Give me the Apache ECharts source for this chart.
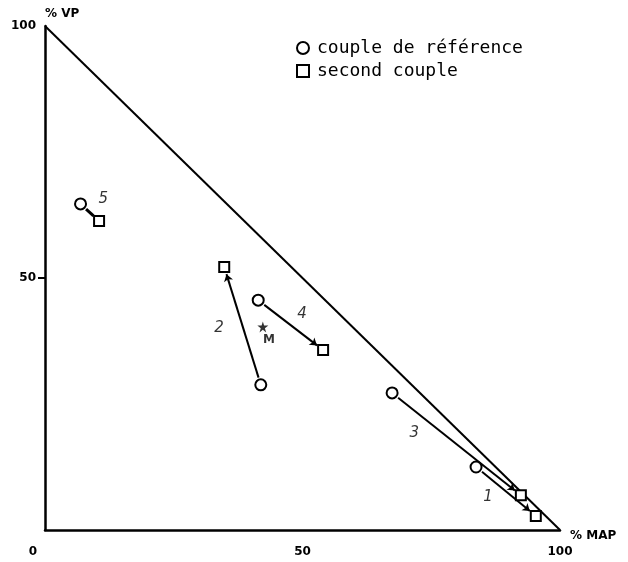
<!DOCTYPE html>
<html>
<head>
<meta charset="utf-8">
<script src="https://cdn.jsdelivr.net/npm/echarts@6/dist/echarts.min.js"></script>
<style>
  html, body { margin: 0; padding: 0; background: #fff; }
  #chart { width: 628px; height: 562px; }
</style>
</head>
<body>
<div id="chart"></div>
<script>
// couples 1..5 : % MAP (x), % VP (y)
const pairNames = ['1', '2', '3', '4', '5'];
const refX = [83.7, 41.9, 67.4, 41.4, 6.9];   // couple de référence (o)
const refY = [12.5, 28.8, 27.2, 45.6, 64.7];
const secX = [95.3, 34.8, 92.4, 54.0, 10.5];  // second couple (□)
const secY = [2.8, 52.2, 6.9, 35.7, 61.3];
const labelX = [86.0, 33.8, 71.7, 49.9, 11.3];
const labelY = [6.5, 40.1, 19.2, 42.9, 65.7];
const pointM = [42.3, 40.3];
const labelM = [43.5, 37.7];
const xTicks = [0, 50, 100];
const yTicks = [50, 100];

const STAR = 'path://M50,0 L61,35 L98,35 L68,57 L79,91 L50,70 L21,91 L32,57 L2,35 L39,35 Z';

// raccourcir un peu les segments pour qu'ils ne touchent pas les symboles
function shorten(x1, y1, x2, y2, gap) {
    const dx = x2 - x1, dy = y2 - y1;
    const len = Math.sqrt(dx * dx + dy * dy);
    const g = Math.min(gap, len * 0.3) / len;
    return [[x1 + dx * g, y1 + dy * g], [x2 - dx * g, y2 - dy * g]];
}

// le couple 5 n'a pas de flèche, juste un trait épais
const arrows = pairNames.map((n, i) => {
    const item = { coords: shorten(refX[i], refY[i], secX[i], secY[i], 1.5) };
    if (n === '5') {
        item.symbol = ['none', 'none'];
        item.lineStyle = { width: 3 };
    }
    return item;
});

const chart = echarts.init(document.getElementById('chart'));
chart.setOption({
    animation: false,
    backgroundColor: '#fff',
    grid: { left: 45, right: 68, top: 26, bottom: 32, containLabel: false },
    legend: {
        data: ['couple de référence', 'second couple'],
        orient: 'vertical',
        left: 291,
        top: 34,
        itemWidth: 12,
        itemHeight: 12,
        itemGap: 5,
        textStyle: {
            fontFamily: 'DejaVu Sans Mono',
            fontSize: 18,
            color: '#000',
            padding: [0, 0, 0, 3]
        }
    },
    xAxis: {
        type: 'value',
        min: 0, max: 100, interval: 50,
        name: '% MAP',
        nameLocation: 'end',
        nameGap: 10,
        nameTextStyle: { fontFamily: 'DejaVu Sans', fontWeight: 'bold', fontSize: 12, color: '#000', verticalAlign: 'top' },
        splitLine: { show: false },
        axisLine: { lineStyle: { color: '#000', width: 2.5 } },
        axisTick: { show: false },
        axisLabel: {
            customValues: xTicks,
            margin: 16,
            fontFamily: 'DejaVu Sans', fontWeight: 'bold', fontSize: 12, color: '#000',
            formatter: v => v === 0 ? '{z|0}' : String(v),
            rich: { z: { fontFamily: 'DejaVu Sans', fontWeight: 'bold', fontSize: 12, color: '#000', padding: [0, 24, 0, 0] } }
        }
    },
    yAxis: {
        type: 'value',
        min: 0, max: 100, interval: 50,
        name: '% VP',
        nameLocation: 'end',
        nameGap: 6,
        nameTextStyle: { fontFamily: 'DejaVu Sans', fontWeight: 'bold', fontSize: 12, color: '#000', align: 'left' },
        splitLine: { show: false },
        axisLine: { lineStyle: { color: '#000', width: 2.5 } },
        axisTick: { show: true, customValues: [50], length: 7, lineStyle: { color: '#000', width: 2 } },
        axisLabel: {
            customValues: yTicks,
            margin: 9,
            fontFamily: 'DejaVu Sans', fontWeight: 'bold', fontSize: 12, color: '#000'
        }
    },
    series: [
        {
            // hypoténuse du triangle
            type: 'line',
            data: [[0, 100], [100, 0]],
            symbol: 'none',
            silent: true,
            lineStyle: { color: '#000', width: 2 },
            z: 1
        },
        {
            type: 'lines',
            coordinateSystem: 'cartesian2d',
            data: arrows,
            symbol: ['none', 'arrow'],
            symbolSize: 7,
            silent: true,
            lineStyle: { color: '#000', width: 2, opacity: 1 },
            z: 2
        },
        {
            name: 'couple de référence',
            type: 'scatter',
            symbol: 'circle',
            symbolSize: 11,
            data: refX.map((x, i) => [x, refY[i]]),
            itemStyle: { color: '#fff', borderColor: '#000', borderWidth: 2, opacity: 1 },
            z: 3
        },
        {
            name: 'second couple',
            type: 'scatter',
            symbol: 'rect',
            symbolSize: 10,
            data: secX.map((x, i) => [x, secY[i]]),
            itemStyle: { color: '#fff', borderColor: '#000', borderWidth: 2, opacity: 1 },
            z: 3
        },
        {
            // point M
            type: 'scatter',
            symbol: STAR,
            symbolSize: 11,
            data: [pointM],
            itemStyle: { color: '#000' },
            z: 3
        },
        {
            // numéros des couples
            type: 'scatter',
            symbolSize: 0,
            silent: true,
            data: pairNames.map((n, i) => ({ name: n, value: [labelX[i], labelY[i]] })),
            label: {
                show: true, position: 'inside', formatter: p => p.name,
                fontFamily: 'DejaVu Sans', fontStyle: 'italic', fontSize: 15, color: '#000'
            },
            z: 4
        },
        {
            type: 'scatter',
            symbolSize: 0,
            silent: true,
            data: [{ name: 'M', value: labelM }],
            label: {
                show: true, position: 'inside', formatter: 'M',
                fontFamily: 'DejaVu Sans', fontWeight: 'bold', fontSize: 12, color: '#000'
            },
            z: 4
        }
    ]
});
</script>
</body>
</html>
